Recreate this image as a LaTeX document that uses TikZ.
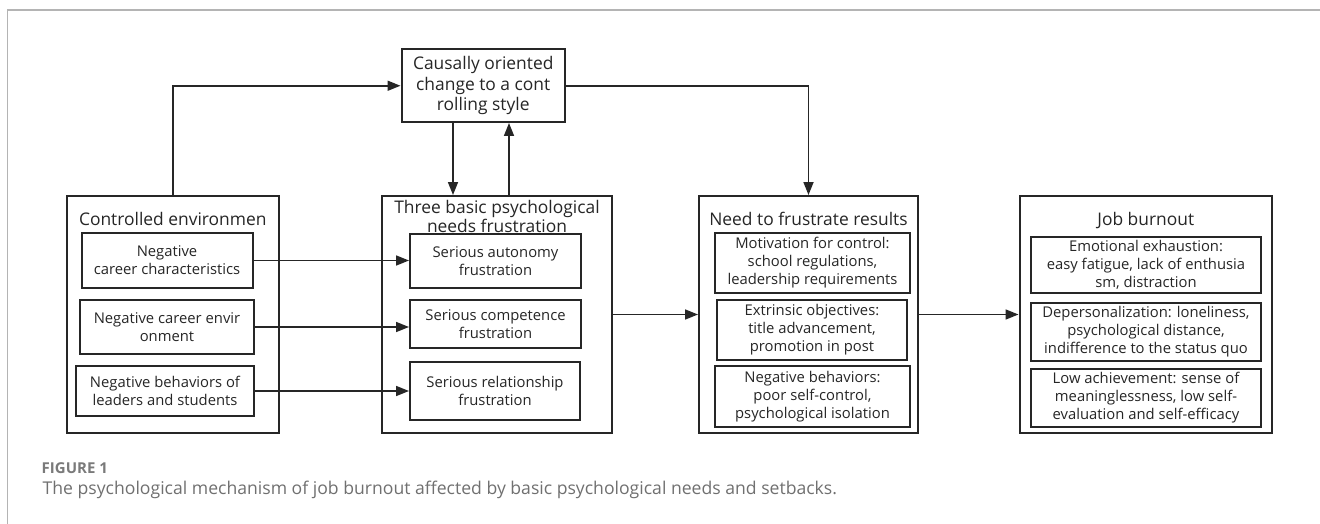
\documentclass[tikz,border=0pt]{standalone}
\usepackage{fontspec}
\setmainfont{Open Sans}
\usetikzlibrary{arrows.meta}
\definecolor{ink}{HTML}{262626}
\definecolor{frame}{HTML}{B4B4B4}
\definecolor{captxt}{HTML}{707070}
\definecolor{caphead}{HTML}{7A7A7A}
\begin{document}
\begin{tikzpicture}[x=1pt,y=-1pt,
  box/.style={draw=ink, line width=2pt, inner sep=0pt, align=center, text=ink,
    font=\fontsize{14.8}{18}\selectfont},
  grp/.style={draw=ink, line width=2pt, inner sep=0pt},
  head/.style={inner sep=0pt, align=center, text=ink, font=\fontsize{17.4}{16}\selectfont},
  link/.style={draw=ink, line width=1.7pt, -{Triangle[length=13pt,width=10pt]}}]
\useasboundingbox (0,0) rectangle (1320,524);
\fill[white] (0,0) rectangle (1320,524);
% panel frame
\draw[frame, line width=1.3pt] (7.5,524) -- (7.5,10) -- (1320,10);

% upper box
\node[box, font=\fontsize{17.4}{20.5}\selectfont, minimum width=163.5pt, minimum height=72.5pt]
  (top) at (483.25,85.75) {Causally oriented\\change to a cont\\rolling style};

% group: controlled environment
\node[grp, minimum width=212.5pt, minimum height=237pt] (ce) at (172.75,314.5) {};
\node[head, anchor=base] (ceT) at (172.75,225) {Controlled environmen};
\node[box, minimum width=171pt, minimum height=55pt] (c1) at (167,260.5) {Negative\\career characteristics};
\node[box, minimum width=174pt, minimum height=54pt] (c2) at (167,327) {Negative career envir\\onment};
\node[box, minimum width=178pt, minimum height=50pt] (c3) at (165,391) {Negative behaviors of\\leaders and students};

% group: three basic needs
\node[grp, minimum width=230pt, minimum height=237pt] (tb) at (497,314.5) {};
\node[head] (tbT) at (497,216.5) {Three basic psychological\\needs frustration};
\node[box, minimum width=171pt, minimum height=54pt] (t1) at (495.5,261) {Serious autonomy\\frustration};
\node[box, minimum width=171pt, minimum height=48pt] (t2) at (495.5,324) {Serious competence\\frustration};
\node[box, minimum width=170pt, minimum height=58pt] (t3) at (495,391) {Serious relationship\\frustration};

% group: results
\node[grp, minimum width=219pt, minimum height=237pt] (ne) at (808.5,314.5) {};
\node[head, anchor=base] (neT) at (808.5,225) {Need to frustrate results};
\node[box, minimum width=195pt, minimum height=60pt] (n1) at (812.5,263) {Motivation for control:\\school regulations,\\leadership requirements};
\node[box, minimum width=190pt, minimum height=60pt] (n2) at (812,330) {Extrinsic objectives:\\title advancement,\\promotion in post};
\node[box, minimum width=195pt, minimum height=61pt] (n3) at (812.5,396.5) {Negative behaviors:\\poor self-control,\\psychological isolation};

% group: burnout
\node[grp, minimum width=252.5pt, minimum height=237pt] (jb) at (1145.75,314.5) {};
\node[head, anchor=base] (jbT) at (1145.75,225) {Job burnout};
\node[box, minimum width=230pt, minimum height=56pt] (j1) at (1146,265) {Emotional exhaustion:\\easy fatigue, lack of enthusia\\sm, distraction};
\node[box, minimum width=230pt, minimum height=58pt] (j2) at (1146,332) {Depersonalization: loneliness,\\psychological distance,\\indifference to the status quo};
\node[box, minimum width=230pt, minimum height=58pt] (j3) at (1146,398) {Low achievement: sense of\\meaninglessness, low self-\\evaluation and self-efficacy};

% connectors
\draw[link] (ce.north) |- (top.west);
\draw[link] (top.east) -| (ne.north);
\draw[link] ([xshift=-30.25pt]top.south) -- ([xshift=-30.25pt]top.south |- tb.north);
\draw[link] ([xshift=25.75pt]top.south |- tb.north) -- ([xshift=25.75pt]top.south);
\draw[link] (c1.east) -- (c1.east -| t1.west);
\draw[link] (c2.east) -- (c2.east -| t2.west);
\draw[link] (c3.east) -- (c3.east -| t3.west);
\draw[link] (tb.east) -- (ne.west);
\draw[link] (ne.east) -- (jb.west);

% caption
\node[anchor=base west, inner sep=0pt, text=caphead, font=\bfseries\fontsize{15}{17}\selectfont]
  (fig) at (41.5,473) {FIGURE 1};
\node[anchor=base west, inner sep=0pt, text=captxt, font=\fontsize{17.6}{19}\selectfont]
  (cap) at (42.5,494.3) {The psychological mechanism of job burnout affected by basic psychological needs and setbacks.};
\end{tikzpicture}
\end{document}
